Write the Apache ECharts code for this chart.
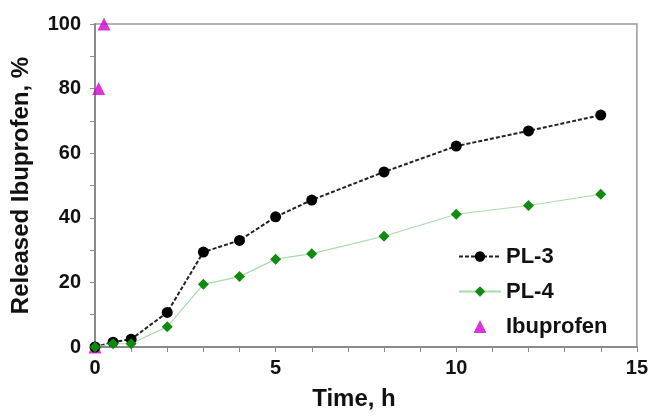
<!DOCTYPE html>
<html>
<head>
<meta charset="utf-8">
<script src="https://cdn.jsdelivr.net/npm/echarts@6/dist/echarts.min.js"></script>
<style>
html,body{margin:0;padding:0;background:#fff;}
#chart{width:651px;height:416px;}
</style>
</head>
<body>
<div id="chart"></div>
<script>
const timeH = [0, 0.5, 1, 2, 3, 4, 5, 6, 8, 10, 12, 14];
const pl3 = [0, 1.5, 2.4, 10.7, 29.4, 33.0, 40.3, 45.5, 54.2, 62.2, 66.9, 71.8];
const pl4 = [0, 1.0, 1.0, 6.3, 19.4, 21.8, 27.2, 28.9, 34.3, 41.1, 43.8, 47.3];
const ibuTime = [0, 0.1, 0.25];
const ibuValues = [0, 80, 100];
const seriesNames = ['PL-3', 'PL-4', 'Ibuprofen'];
const xTitle = 'Time, h';
const yTitle = 'Released Ibuprofen, %';

const pair = (xs, ys) => xs.map((x, i) => [x, ys[i]]);
const font = '"Liberation Sans", Arial, sans-serif';
// legend icon: a 13px triangle centred in a 42x13 box (degenerate corner points keep the box size)
const triIcon = 'path://M0,13L0.01,13L0,13ZM42,0L41.99,0L42,0ZM14.5,13L21,0L27.5,13Z';

const chart = echarts.init(document.getElementById('chart'), null, {renderer: 'canvas'});
chart.setOption({
  animation: false,
  backgroundColor: '#fff',
  grid: {left: 95, right: 12, top: 24, bottom: 66, show: true, borderColor: '#9a9a9a', borderWidth: 1.5, backgroundColor: 'transparent'},
  legend: {
    left: 453, top: 240, orient: 'vertical',
    itemWidth: 42, itemHeight: 13, itemGap: 12,
    textStyle: {fontFamily: font, fontWeight: 'bold', fontSize: 22, color: '#111', lineHeight: 23},
    data: [seriesNames[0], seriesNames[1], {name: seriesNames[2], icon: triIcon}]
  },
  xAxis: {
    type: 'value', min: 0, max: 15, interval: 5,
    name: xTitle, nameLocation: 'middle', nameGap: 40,
    nameTextStyle: {fontFamily: font, fontWeight: 'bold', fontSize: 24, color: '#111', padding: [0, 24, 0, 0]},
    axisLine: {show: true, lineStyle: {color: '#8a8a8a', width: 2}},
    axisTick: {show: true, length: 5, lineStyle: {color: '#8a8a8a', width: 1}},
    minorTick: {show: true, splitNumber: 5, length: 5, lineStyle: {color: '#8a8a8a', width: 1}},
    axisLabel: {fontFamily: font, fontWeight: 'bold', fontSize: 20, color: '#111', margin: 11},
    splitLine: {show: false}
  },
  yAxis: {
    type: 'value', min: 0, max: 100, interval: 20,
    name: yTitle, nameLocation: 'middle', nameGap: 62, nameRotate: 90,
    nameTextStyle: {fontFamily: font, fontWeight: 'bold', fontSize: 24, color: '#111'},
    axisLine: {show: true, lineStyle: {color: '#8a8a8a', width: 2}},
    axisTick: {show: true, length: 5, lineStyle: {color: '#8a8a8a', width: 1}},
    minorTick: {show: true, splitNumber: 2, length: 5, lineStyle: {color: '#8a8a8a', width: 1}},
    axisLabel: {fontFamily: font, fontWeight: 'bold', fontSize: 20, color: '#111', margin: 14},
    splitLine: {show: false}
  },
  series: [
    {
      name: seriesNames[0], type: 'line', data: pair(timeH, pl3), clip: false,
      symbol: 'circle', symbolSize: 11,
      itemStyle: {color: '#000'},
      lineStyle: {color: '#222', width: 2, type: [4, 2]}
    },
    {
      name: seriesNames[1], type: 'line', data: pair(timeH, pl4), clip: false,
      symbol: 'diamond', symbolSize: 11,
      itemStyle: {color: '#108a10'},
      lineStyle: {color: '#a8dca8', width: 1.2}
    },
    {
      name: seriesNames[2], type: 'scatter', data: pair(ibuTime, ibuValues), clip: false,
      symbol: 'triangle', symbolSize: 13,
      itemStyle: {color: '#d000d0'}
    }
  ]
});
</script>
</body>
</html>
